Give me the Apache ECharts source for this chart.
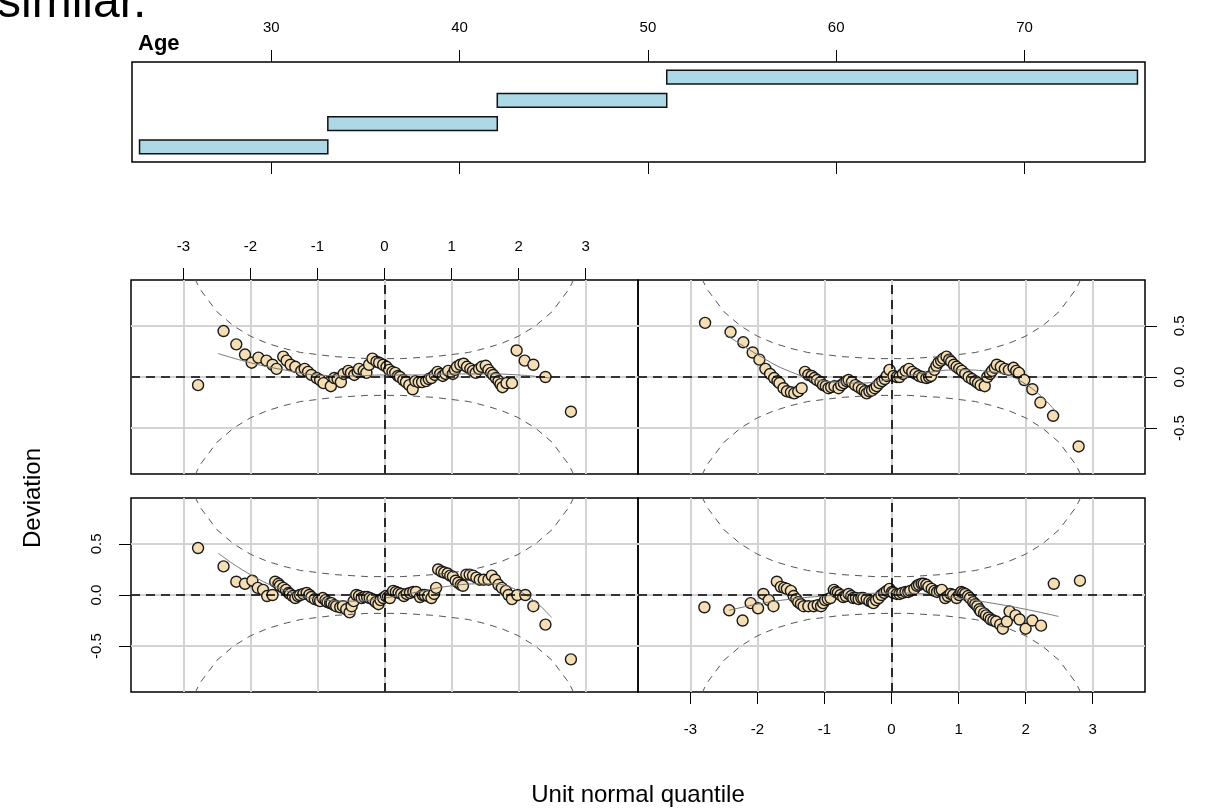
<!DOCTYPE html>
<html>
<head>
<meta charset="utf-8">
<script src="https://cdn.jsdelivr.net/npm/echarts@6/dist/echarts.min.js"></script>
<style>
  html, body { margin: 0; padding: 0; background: #fff; }
  #chart { width: 1213px; height: 811px; }
</style>
</head>
<body>
<div id="chart"></div>
<script>
// age intervals of the conditioning panel
var ageTicks = [30, 40, 50, 60, 70];
var ageLow = [23, 33, 42, 51];
var ageHigh = [33, 42, 51, 76];

// worm plot ticks
var zTicks = [-3, -2, -1, 0, 1, 2, 3];
var devTicks = [-0.5, 0, 0.5];

// 95% band
var ciZ = [-3, -2.75, -2.5, -2.25, -2, -1.75, -1.5, -1.25, -1, -0.75, -0.5, -0.25, 0,
  0.25, 0.5, 0.75, 1, 1.25, 1.5, 1.75, 2, 2.25, 2.5, 2.75, 3];
var ciHigh = [1.19, 0.86, 0.64, 0.50, 0.40, 0.33, 0.28, 0.24, 0.22, 0.20, 0.19, 0.18, 0.18,
  0.18, 0.19, 0.20, 0.22, 0.24, 0.28, 0.33, 0.40, 0.50, 0.64, 0.86, 1.19];
var ciLow = [-1.19, -0.86, -0.64, -0.50, -0.40, -0.33, -0.28, -0.24, -0.22, -0.20, -0.19, -0.18, -0.18,
  -0.18, -0.19, -0.20, -0.22, -0.24, -0.28, -0.33, -0.40, -0.50, -0.64, -0.86, -1.19];

// panel 1 (top left)
var wormTL = [[-2.78,-0.08],[-2.40,0.45],[-2.21,0.32],[-2.08,0.22],[-1.98,0.14],[-1.88,0.19],[-1.76,0.16],[-1.67,0.12],[-1.61,0.08],[-1.51,0.20],[-1.46,0.16],[-1.40,0.12],[-1.33,0.10],[-1.24,0.06],[-1.19,0.08],[-1.14,0.05],[-1.09,0.02],[-1.01,-0.01],[-0.96,-0.03],[-0.91,-0.06],[-0.80,-0.09],[-0.75,-0.01],[-0.70,-0.02],[-0.65,-0.05],[-0.61,0.03],[-0.54,0.06],[-0.50,0.04],[-0.45,0.02],[-0.40,0.05],[-0.38,0.08],[-0.31,0.06],[-0.27,0.04],[-0.23,0.12],[-0.18,0.18],[-0.12,0.15],[-0.08,0.14],[-0.02,0.12],[0.03,0.10],[0.07,0.07],[0.12,0.05],[0.16,0.04],[0.20,0.01],[0.23,0.00],[0.28,-0.03],[0.32,-0.05],[0.37,-0.08],[0.42,-0.12],[0.46,-0.04],[0.51,-0.05],[0.56,-0.05],[0.62,-0.04],[0.66,-0.02],[0.70,-0.01],[0.75,0.02],[0.79,0.05],[0.83,0.03],[0.87,0.01],[0.91,0.03],[0.95,0.06],[1.02,0.03],[1.05,0.07],[1.08,0.10],[1.13,0.12],[1.18,0.13],[1.23,0.10],[1.28,0.08],[1.32,0.06],[1.36,0.04],[1.41,0.08],[1.45,0.10],[1.51,0.11],[1.55,0.07],[1.59,0.04],[1.62,0.02],[1.66,-0.01],[1.70,-0.04],[1.73,-0.07],[1.76,-0.10],[1.82,-0.06],[1.90,-0.06],[1.97,0.26],[2.09,0.16],[2.22,0.12],[2.40,0.00],[2.78,-0.34]];
var fitTL = [[-2.48,0.23],[-2.0,0.14],[-1.5,0.07],[-1.0,0.02],[-0.5,0.01],[0,0.02],[0.5,0.02],[1.0,0.03],[1.5,0.03],[2.0,0.02],[2.47,-0.01]];

// panel 2 (top right)
var wormTR = [[-2.78,0.53],[-2.40,0.44],[-2.21,0.34],[-2.07,0.24],[-1.97,0.17],[-1.88,0.08],[-1.81,0.03],[-1.75,-0.01],[-1.70,-0.04],[-1.67,-0.06],[-1.61,-0.11],[-1.56,-0.14],[-1.50,-0.15],[-1.45,-0.16],[-1.39,-0.14],[-1.34,-0.11],[-1.29,0.05],[-1.24,0.02],[-1.19,0.01],[-1.15,-0.01],[-1.11,-0.03],[-1.06,-0.05],[-1.02,-0.08],[-0.98,-0.09],[-0.94,-0.11],[-0.90,-0.10],[-0.85,-0.09],[-0.79,-0.11],[-0.75,-0.08],[-0.71,-0.06],[-0.67,-0.04],[-0.64,-0.03],[-0.59,-0.05],[-0.54,-0.08],[-0.49,-0.10],[-0.44,-0.12],[-0.40,-0.14],[-0.37,-0.16],[-0.33,-0.14],[-0.29,-0.13],[-0.25,-0.11],[-0.22,-0.09],[-0.18,-0.06],[-0.14,-0.04],[-0.10,-0.02],[-0.07,0.01],[-0.03,0.07],[0.03,0.01],[0.08,0.00],[0.12,0.00],[0.17,0.03],[0.21,0.06],[0.26,0.08],[0.31,0.05],[0.36,0.03],[0.41,0.01],[0.46,0.00],[0.52,-0.01],[0.56,0.00],[0.59,0.01],[0.64,0.07],[0.67,0.11],[0.70,0.14],[0.74,0.16],[0.77,0.18],[0.82,0.20],[0.86,0.17],[0.89,0.15],[0.93,0.12],[0.97,0.10],[1.01,0.08],[1.05,0.06],[1.10,0.03],[1.15,0.00],[1.20,-0.02],[1.25,-0.04],[1.29,-0.06],[1.33,-0.08],[1.39,-0.09],[1.43,0.00],[1.47,0.03],[1.50,0.06],[1.54,0.09],[1.57,0.12],[1.63,0.10],[1.69,0.08],[1.75,0.07],[1.82,0.09],[1.86,0.06],[1.90,0.04],[1.98,-0.03],[2.10,-0.12],[2.22,-0.25],[2.41,-0.38],[2.79,-0.68]];
var fitTR = [[-2.5,0.43],[-2.0,0.22],[-1.5,0.05],[-1.0,-0.04],[-0.5,-0.06],[0,-0.02],[0.5,0.04],[1.0,0.07],[1.5,0.05],[2.0,-0.07],[2.45,-0.34]];

// panel 3 (bottom left)
var wormBL = [[-2.78,0.46],[-2.40,0.28],[-2.21,0.13],[-2.08,0.11],[-1.97,0.14],[-1.89,0.07],[-1.81,0.05],[-1.75,-0.01],[-1.67,0.00],[-1.63,0.13],[-1.58,0.11],[-1.56,0.09],[-1.51,0.07],[-1.47,0.05],[-1.43,0.02],[-1.41,0.01],[-1.37,-0.01],[-1.33,-0.03],[-1.29,-0.01],[-1.26,0.00],[-1.21,0.01],[-1.16,0.02],[-1.12,0.00],[-1.09,-0.02],[-1.04,-0.04],[-0.99,-0.05],[-0.96,-0.06],[-0.92,-0.03],[-0.88,-0.05],[-0.85,-0.07],[-0.81,-0.08],[-0.79,-0.08],[-0.75,-0.10],[-0.72,-0.11],[-0.66,-0.12],[-0.62,-0.11],[-0.57,-0.14],[-0.52,-0.17],[-0.49,-0.11],[-0.46,-0.06],[-0.42,0.00],[-0.38,-0.01],[-0.34,-0.03],[-0.30,-0.02],[-0.26,-0.02],[-0.22,-0.03],[-0.18,-0.04],[-0.13,-0.07],[-0.09,-0.09],[-0.06,-0.05],[-0.02,-0.03],[0.02,-0.01],[0.05,-0.02],[0.08,-0.03],[0.13,0.04],[0.17,0.03],[0.21,0.02],[0.25,0.01],[0.29,-0.01],[0.33,0.01],[0.38,0.02],[0.43,0.03],[0.47,0.03],[0.53,-0.02],[0.57,0.00],[0.60,0.00],[0.65,-0.01],[0.70,-0.03],[0.74,0.01],[0.77,0.07],[0.80,0.25],[0.85,0.23],[0.89,0.22],[0.94,0.21],[0.98,0.19],[1.02,0.18],[1.06,0.14],[1.10,0.12],[1.14,0.10],[1.17,0.09],[1.22,0.20],[1.27,0.20],[1.32,0.19],[1.37,0.17],[1.42,0.15],[1.48,0.15],[1.55,0.15],[1.60,0.19],[1.65,0.15],[1.70,0.10],[1.75,0.07],[1.81,0.04],[1.85,0.00],[1.90,-0.04],[1.98,0.00],[2.10,0.00],[2.22,-0.11],[2.40,-0.29],[2.78,-0.63]];
var fitBL = [[-2.48,0.41],[-2.0,0.20],[-1.5,0.05],[-1.0,-0.04],[-0.5,-0.06],[0,-0.03],[0.5,0.03],[1.0,0.09],[1.5,0.11],[2.0,0.04],[2.49,-0.22]];

// panel 4 (bottom right)
var wormBR = [[-2.79,-0.12],[-2.42,-0.15],[-2.22,-0.25],[-2.10,-0.08],[-1.99,-0.13],[-1.91,0.01],[-1.83,-0.05],[-1.76,-0.11],[-1.71,0.13],[-1.65,0.08],[-1.60,0.07],[-1.56,0.06],[-1.50,0.04],[-1.46,-0.01],[-1.42,-0.04],[-1.39,-0.07],[-1.35,-0.09],[-1.31,-0.11],[-1.24,-0.11],[-1.16,-0.11],[-1.10,-0.10],[-1.05,-0.11],[-1.02,-0.08],[-0.99,-0.05],[-0.95,-0.04],[-0.91,-0.03],[-0.86,0.05],[-0.83,0.03],[-0.80,0.02],[-0.76,0.00],[-0.72,-0.02],[-0.68,-0.01],[-0.64,0.01],[-0.60,-0.01],[-0.57,-0.03],[-0.53,-0.03],[-0.49,-0.04],[-0.45,-0.03],[-0.42,-0.03],[-0.37,-0.04],[-0.33,-0.06],[-0.29,-0.07],[-0.27,-0.08],[-0.23,-0.05],[-0.19,-0.03],[-0.15,0.00],[-0.11,0.02],[-0.07,0.04],[-0.03,0.06],[0.01,0.03],[0.03,0.02],[0.08,0.01],[0.12,0.01],[0.16,0.02],[0.21,0.03],[0.25,0.03],[0.28,0.04],[0.34,0.06],[0.38,0.09],[0.41,0.10],[0.45,0.11],[0.48,0.11],[0.52,0.10],[0.55,0.08],[0.60,0.06],[0.64,0.04],[0.68,0.03],[0.72,0.04],[0.75,0.05],[0.80,-0.03],[0.84,-0.01],[0.88,0.01],[0.92,0.00],[0.97,-0.03],[1.01,0.00],[1.04,0.03],[1.07,0.02],[1.10,0.01],[1.14,-0.01],[1.17,-0.03],[1.22,-0.07],[1.25,-0.09],[1.28,-0.11],[1.31,-0.14],[1.33,-0.16],[1.38,-0.18],[1.41,-0.20],[1.45,-0.22],[1.48,-0.24],[1.52,-0.25],[1.56,-0.26],[1.62,-0.29],[1.66,-0.33],[1.72,-0.26],[1.76,-0.16],[1.85,-0.20],[1.91,-0.24],[2.00,-0.33],[2.10,-0.25],[2.23,-0.30],[2.42,0.11],[2.81,0.14]];
var fitBR = [[-2.42,-0.15],[-2.0,-0.09],[-1.5,-0.04],[-1.0,-0.01],[-0.5,0.01],[0,0.02],[0.5,0.01],[1.0,-0.03],[1.5,-0.08],[2.0,-0.14],[2.49,-0.21]];

var FONT = "'Liberation Sans', Arial, Helvetica, sans-serif";

function pairs(xs, ys) {
  return xs.map(function(x, i) { return [x, ys[i]]; });
}

function labelStyle(margin, show, rotate) {
  return {
    show: show, margin: margin, fontSize: 15, color: '#000', fontFamily: FONT,
    rotate: rotate || 0
  };
}

//x axis of one worm panel
function wormXAxis(grid, pos, withLabels) {
  var lab = labelStyle(pos === 'top' ? 26 : 30, withLabels);
  lab.customValues = zTicks;
  return {
    gridIndex: grid, type: 'value', position: pos, min: -3.78, max: 3.78,
    axisLine: { show: false, onZero: false },
    axisTick: { show: withLabels, length: 12, customValues: zTicks, lineStyle: { color: '#000', width: 1 } },
    axisLabel: lab,
    splitLine: { show: true, lineStyle: { color: '#d3d3d3', width: 2 } }
  };
}

//y axis of one worm panel
function wormYAxis(grid, pos, withLabels) {
  var lab = labelStyle(27, withLabels, 90);
  lab.customValues = devTicks;
  lab.formatter = function(v) { return v.toFixed(1); };
  return {
    gridIndex: grid, type: 'value', position: pos, min: -0.95, max: 0.95,
    axisLine: { show: false, onZero: false },
    axisTick: { show: withLabels, length: 12, customValues: devTicks, lineStyle: { color: '#000', width: 1 } },
    axisLabel: lab,
    splitLine: { show: true, lineStyle: { color: '#d3d3d3', width: 2 } }
  };
}

function panelSeries(k, points, fit) {
  var ax = k + 2, ay = k + 1;
  var band = { color: '#555', width: 1, type: [7, 6] };
  return [
    {
      type: 'scatter', xAxisIndex: ax, yAxisIndex: ay, data: points,
      symbol: 'circle', symbolSize: 11, z: 2,
      itemStyle: { color: '#F5DEB3', borderColor: '#1a1a1a', borderWidth: 1.4, opacity: 1 }
    },
    {
      type: 'line', xAxisIndex: ax, yAxisIndex: ay, data: fit, smooth: true,
      showSymbol: false, z: 3, lineStyle: { color: '#777', width: 1 }
    },
    {
      type: 'line', xAxisIndex: ax, yAxisIndex: ay, data: pairs(ciZ, ciHigh),
      showSymbol: false, z: 3, lineStyle: band,
      markLine: {
        silent: true, symbol: ['none', 'none'], label: { show: false },
        lineStyle: { color: '#000', width: 1.6, type: [9, 6] },
        data: [{ xAxis: 0 }, { yAxis: 0 }]
      }
    },
    {
      type: 'line', xAxisIndex: ax, yAxisIndex: ay, data: pairs(ciZ, ciLow),
      showSymbol: false, z: 3, lineStyle: band
    }
  ];
}

var chart = echarts.init(document.getElementById('chart'));

var box = { show: true, borderColor: '#000', borderWidth: 1.5, backgroundColor: 'transparent', outerBoundsMode: 'none' };
function grid(l, t, w, h) {
  return Object.assign({ left: l, top: t, width: w, height: h }, box);
}

var ageLabel = labelStyle(27, true);
ageLabel.customValues = ageTicks;

var series = [{
  type: 'custom', xAxisIndex: 0, yAxisIndex: 0,
  data: ageLow.map(function(v, i) { return [v, ageHigh[i], i + 1]; }),
  renderItem: function(params, api) {
    var a = api.coord([api.value(0), api.value(2)]);
    var b = api.coord([api.value(1), api.value(2)]);
    var h = api.size([0, 0.6])[1];
    return {
      type: 'rect',
      shape: { x: a[0], y: a[1] - h / 2, width: b[0] - a[0], height: h },
      style: { fill: '#ADD8E6', stroke: '#111', lineWidth: 1.5 }
    };
  }
}];
series = series.concat(panelSeries(0, wormTL, fitTL), panelSeries(1, wormTR, fitTR),
  panelSeries(2, wormBL, fitBL), panelSeries(3, wormBR, fitBR));

chart.setOption({
  animation: false,
  backgroundColor: '#fff',
  grid: [
    grid(132, 62, 1013, 100),
    grid(131, 280, 507, 194),
    grid(638, 280, 507, 194),
    grid(131, 498, 507, 194),
    grid(638, 498, 507, 194)
  ],
  xAxis: [
    {
      gridIndex: 0, type: 'value', position: 'top', min: 22.6, max: 76.4,
      axisLine: { show: false, onZero: false },
      axisTick: { show: true, length: 12, customValues: ageTicks, lineStyle: { color: '#000' } },
      axisLabel: ageLabel,
      splitLine: { show: false }
    },
    {
      gridIndex: 0, type: 'value', position: 'bottom', min: 22.6, max: 76.4,
      axisLine: { show: false, onZero: false },
      axisTick: { show: true, length: 12, customValues: ageTicks, lineStyle: { color: '#000' } },
      axisLabel: { show: false },
      splitLine: { show: false }
    },
    wormXAxis(1, 'top', true),
    wormXAxis(2, 'top', false),
    wormXAxis(3, 'bottom', false),
    wormXAxis(4, 'bottom', true)
  ],
  yAxis: [
    { gridIndex: 0, type: 'value', min: 0.35, max: 4.65, show: false },
    wormYAxis(1, 'left', false),
    wormYAxis(2, 'right', true),
    wormYAxis(3, 'left', true),
    wormYAxis(4, 'right', false)
  ],
  graphic: [
    {
      type: 'text', left: -3, top: -20,
      style: { text: 'similar.', font: '48px ' + FONT, fill: '#000' }
    },
    {
      type: 'text', left: 138, top: 33,
      style: { text: 'Age', font: 'bold 22px ' + FONT, fill: '#000' }
    },
    {
      type: 'text', x: 33, y: 498, rotation: Math.PI / 2,
      style: { text: 'Deviation', font: '24px ' + FONT, fill: '#000', textAlign: 'center', textVerticalAlign: 'middle' }
    },
    {
      type: 'text', x: 638, y: 795,
      style: { text: 'Unit normal quantile', font: '24px ' + FONT, fill: '#000', textAlign: 'center', textVerticalAlign: 'middle' }
    }
  ],
  series: series
});
</script>
</body>
</html>
